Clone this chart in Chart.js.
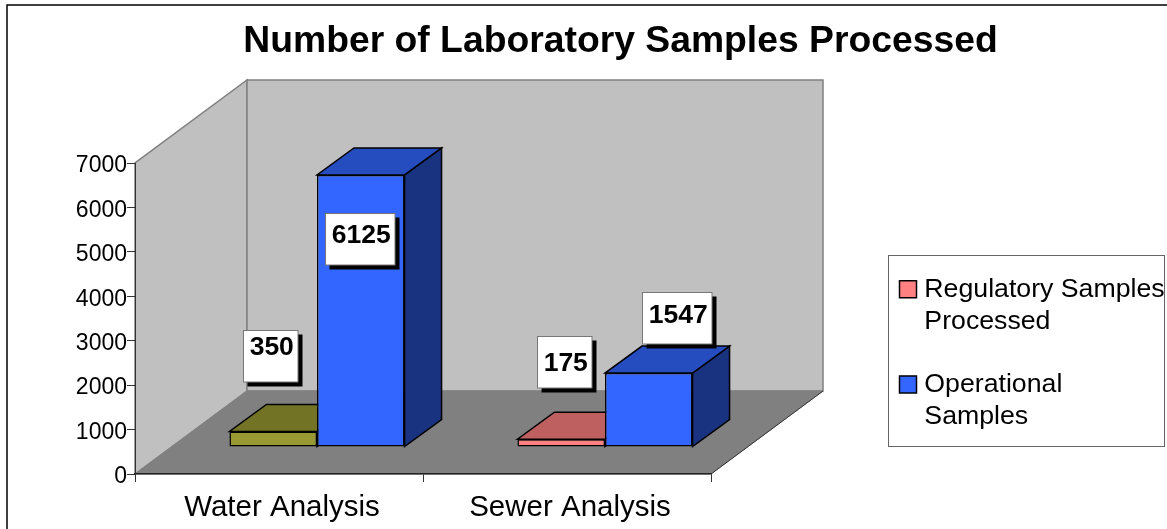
<!DOCTYPE html>
<html>
<head>
<meta charset="utf-8">
<style>html,body{margin:0;padding:0;background:#fff;overflow:hidden}canvas{display:block}</style>
<script src="https://cdn.jsdelivr.net/npm/chart.js@4"></script>
</head>
<body>
<canvas id="c" width="1167" height="529"></canvas>
<script>
const chartTitle = 'Number of Laboratory Samples Processed';
const categories = ['Water Analysis', 'Sewer Analysis'];
const regulatoryName = ['Regulatory Samples', 'Processed'];
const operationalName = ['Operational', 'Samples'];
const regulatoryValues = [350, 175];
const operationalValues = [6125, 1665];
const regulatoryLabels = ['350', '175'];
const operationalLabels = ['6125', '1547'];
const yTickStep = 1000;
const yMax = 7000;

const FONT = "'Liberation Sans', Arial, sans-serif";
const regulatoryColors = ['#999933', '#FF8080'];
const regulatoryTops = ['#737326', '#BF6060'];
const regulatorySides = ['#4D4D1A', '#804040'];
const operationalColors = ['#3366FF', '#3366FF'];
const operationalTops = ['#264DBF', '#264DBF'];
const operationalSides = ['#1A3380', '#1A3380'];
const WALL = { dx: 112, dy: -83 };
const BAR_SHIFT = { dx: 38, dy: -27 };
const BAR_DEPTH = { dx: 37, dy: -27 };
// label box placement relative to each bar's front-top-centre:
// box centre x, box top y, text centre y inside the box
const regulatoryLabelOffset = [[-3.4, -101, 16.8], [3, -103, 26.9]];
const operationalLabelOffset = [[-1, 38, 22.2], [28, -81, 23.5]];

function poly(ctx, pts, fill, stroke, lw) {
  ctx.beginPath();
  pts.forEach((p, i) => i ? ctx.lineTo(p[0], p[1]) : ctx.moveTo(p[0], p[1]));
  ctx.closePath();
  if (fill) { ctx.fillStyle = fill; ctx.fill(); }
  if (stroke) { ctx.strokeStyle = stroke; ctx.lineWidth = lw || 1; ctx.stroke(); }
}

const threeD = {
  id: 'threeD',
  beforeLayout(chart) {
    [chart.titleBlock, chart.legend].forEach(b => {
      if (b && !b._wrappedUpdate) {
        const f = b.update.bind(b);
        b.update = function (...args) { f(...args); this.height = 0; this.width = 0; };
        b._wrappedUpdate = true;
      }
    });
  },
  afterLayout(chart) {
    const t = chart.titleBlock;
    Object.assign(t, { left: 200, right: 1041, width: 841, top: 19, bottom: 64, height: 45 });
    const l = chart.legend;
    Object.assign(l, { left: 874, right: 1167, width: 293, top: 245, bottom: 446, height: 201 });
  },
  beforeDraw(chart) {
    const ctx = chart.ctx, xs = chart.scales.x, ys = chart.scales.y;
    ctx.save();
    // outer frame
    ctx.strokeStyle = '#000'; ctx.lineWidth = 1.5;
    ctx.beginPath(); ctx.moveTo(7, 529); ctx.lineTo(7, 5); ctx.lineTo(1167, 5); ctx.stroke();
    // legend frame
    ctx.strokeStyle = '#666'; ctx.lineWidth = 1;
    ctx.strokeRect(888.5, 255.5, 276, 191);
    // walls and floor
    const x0 = xs.left, x1 = xs.right, b = ys.getPixelForValue(0), t = ys.getPixelForValue(yMax);
    const d = WALL;
    poly(ctx, [[x0, b], [x0, t], [x0 + d.dx, t + d.dy], [x0 + d.dx, b + d.dy]], '#C0C0C0', '#808080', 1.5);
    poly(ctx, [[x0 + d.dx, b + d.dy], [x0 + d.dx, t + d.dy], [x1 + d.dx, t + d.dy], [x1 + d.dx, b + d.dy]], '#C0C0C0', '#808080', 1.5);
    poly(ctx, [[x0, b], [x1, b], [x1 + d.dx, b + d.dy], [x0 + d.dx, b + d.dy]], '#808080', '#808080', 1);
    ctx.strokeStyle = '#333'; ctx.lineWidth = 1;
    ctx.beginPath(); ctx.moveTo(x1, b); ctx.lineTo(x1 + d.dx, b + d.dy); ctx.stroke();
    ctx.restore();
  },
  beforeDatasetsDraw(chart) {
    const ctx = chart.ctx;
    ctx.save();
    ctx.translate(BAR_SHIFT.dx, BAR_SHIFT.dy);
    [[0, regulatoryTops, regulatorySides], [1, operationalTops, operationalSides]].forEach(([idx, tops, sides]) => {
      chart.getDatasetMeta(idx).data.forEach((el, i) => {
        const l = el.x - el.width / 2, r = el.x + el.width / 2, t = el.y, b = el.base;
        const dx = BAR_DEPTH.dx, dy = BAR_DEPTH.dy;
        poly(ctx, [[r, b], [r, t], [r + dx, t + dy], [r + dx, b + dy]], sides[i], '#000', 1.5);
        poly(ctx, [[l, t], [r, t], [r + dx, t + dy], [l + dx, t + dy]], tops[i], '#000', 1.5);
      });
    });
  },
  afterDatasetsDraw(chart) {
    const ctx = chart.ctx;
    ctx.restore();
    ctx.save();
    const boxH = 51.5;
    [[0, regulatoryLabels, regulatoryLabelOffset], [1, operationalLabels, operationalLabelOffset]].forEach(([idx, labels, offs]) => {
      chart.getDatasetMeta(idx).data.forEach((el, i) => {
        const txt = labels[i];
        const frontX = el.x + BAR_SHIFT.dx, frontY = el.y + BAR_SHIFT.dy;
        const boxW = txt.length === 4 ? 69.5 : 54.5;
        const cx = frontX + offs[i][0], top = frontY + offs[i][1];
        const bx = Math.round(cx - boxW / 2) + .5, by = Math.round(top) + .5;
        ctx.fillStyle = '#000';
        ctx.fillRect(bx + 4, by + 4, boxW + 0.5, boxH + 0.5);
        ctx.fillStyle = '#fff';
        ctx.fillRect(bx, by, boxW, boxH);
        ctx.strokeStyle = '#777'; ctx.lineWidth = 1;
        ctx.strokeRect(bx, by, boxW, boxH);
        ctx.fillStyle = '#000';
        ctx.font = 'bold 26.5px ' + FONT;
        ctx.textAlign = 'center'; ctx.textBaseline = 'middle';
        ctx.fillText(txt, bx + boxW / 2 + 1, by + offs[i][2]);
      });
    });
    ctx.restore();
  }
};

new Chart(document.getElementById('c'), {
  type: 'bar',
  data: {
    labels: categories,
    datasets: [
      { label: regulatoryName, data: regulatoryValues, backgroundColor: regulatoryColors, borderColor: '#000', borderWidth: 1.5, borderSkipped: false },
      { label: operationalName, data: operationalValues, backgroundColor: operationalColors, borderColor: '#000', borderWidth: 1.5, borderSkipped: false }
    ]
  },
  plugins: [threeD],
  options: {
    responsive: false,
    animation: false,
    devicePixelRatio: 1,
    events: [],
    layout: { padding: { left: 0, right: 456, top: 163, bottom: 0 } },
    datasets: { bar: { categoryPercentage: 0.608, barPercentage: 1 } },
    scales: {
      x: {
        afterFit(s) { s.height = 55; },
        grid: { display: true, drawOnChartArea: false, drawTicks: true, tickLength: 8, color: '#333', lineWidth: 1 },
        border: { display: true, color: '#222', width: 1.5 },
        ticks: { font: { family: FONT, size: 29.5 }, color: '#000', padding: 8.5, maxRotation: 0, labelOffset: 3 }
      },
      y: {
        min: 0, max: yMax,
        afterFit(s) { s.width = 135; },
        grid: { display: true, drawOnChartArea: false, drawTicks: true, tickLength: 8, color: '#333', lineWidth: 1 },
        border: { display: true, color: '#333', width: 1 },
        ticks: { stepSize: yTickStep, font: { family: FONT, size: 23 }, color: '#000', padding: 0, labelOffset: 3, format: { useGrouping: false } }
      }
    },
    plugins: {
      tooltip: { enabled: false },
      title: {
        display: true, text: chartTitle, color: '#000', padding: 0,
        font: { family: FONT, size: 37.3, weight: 'bold', lineHeight: 1.2 }
      },
      legend: {
        display: true, position: 'right', align: 'start',
        labels: {
          color: '#000', usePointStyle: true, boxWidth: 6, boxHeight: 17, padding: 31,
          font: { family: FONT, size: 26.7, lineHeight: 1.2 },
          generateLabels: () => [
            { text: regulatoryName, fillStyle: regulatoryColors[1], strokeStyle: '#000', lineWidth: 1.5, pointStyle: 'rect', fontColor: '#000', hidden: false },
            { text: operationalName, fillStyle: operationalColors[1], strokeStyle: '#000', lineWidth: 1.5, pointStyle: 'rect', fontColor: '#000', hidden: false }
          ]
        }
      }
    }
  }
});
</script>
</body>
</html>
